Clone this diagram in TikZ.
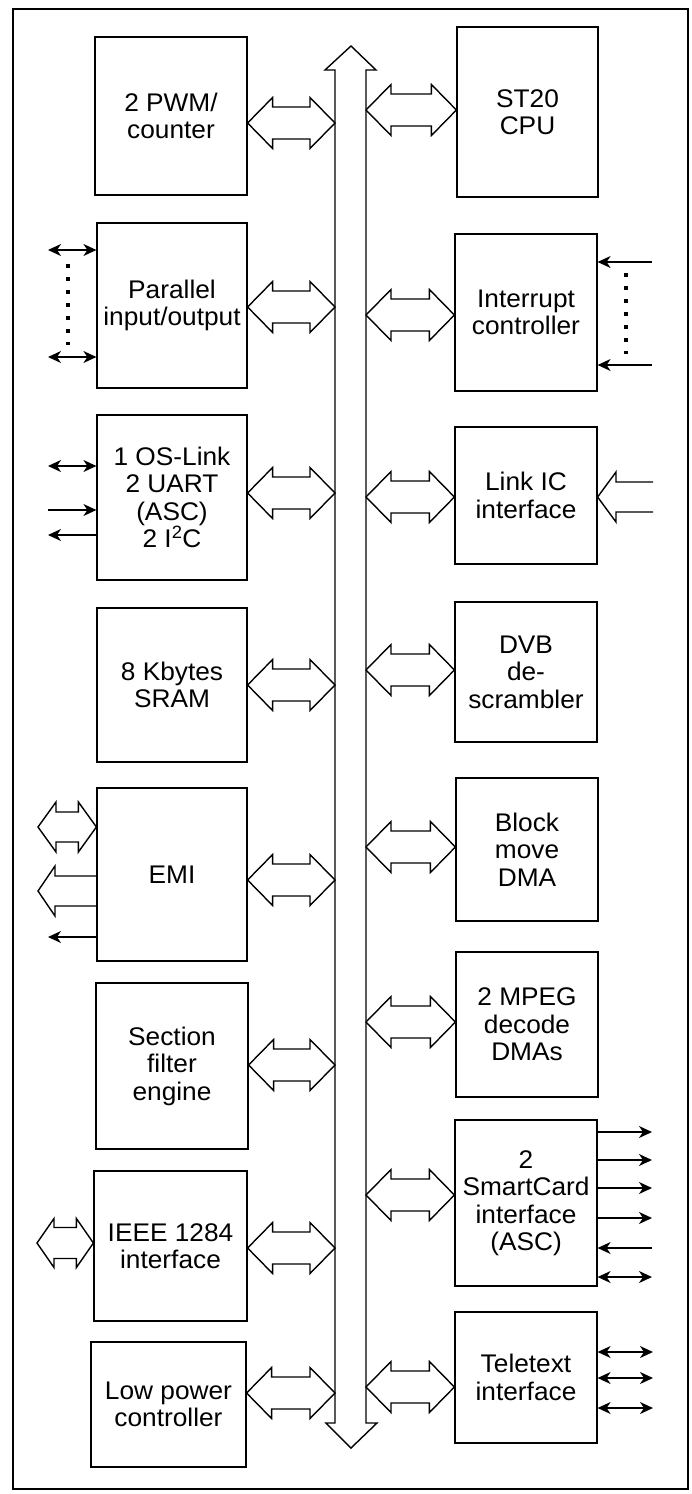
\documentclass[tikz,border=0pt]{standalone}
\usepackage{fontspec}
\setmainfont{Liberation Sans}[FakeStretch=1.03]
\usetikzlibrary{calc,arrows.meta}
\newcommand\mkbox[6]{%
  \pgfmathsetmacro\mkW{#4-#2}\pgfmathsetmacro\mkH{#5-#3}%
  \pgfmathsetmacro\mkX{(#2+#4)/2}\pgfmathsetmacro\mkY{(#3+#5)/2}%
  \node[blk,minimum width=\mkW pt,minimum height=\mkH pt] (#1) at (\mkX,\mkY) {#6};}
\newcommand\dblarr[5]{%
  \draw[harrow] (#1) -- ($(#1)+(#3,-#4)$) -- ($(#1)+(#3,-#5)$) -- ($(#2)+(-#3,-#5)$)
   -- ($(#2)+(-#3,-#4)$) -- (#2) -- ($(#2)+(-#3,#4)$) -- ($(#2)+(-#3,#5)$)
   -- ($(#1)+(#3,#5)$) -- ($(#1)+(#3,#4)$) -- cycle;}
\newcommand\lbus[2]{%
  \coordinate (#1a) at (#1.east |- 0,#2);
  \coordinate (#1b) at (busL |- 0,#2);
  \dblarr{#1a}{#1b}{25}{25.5}{16}}
\newcommand\rbus[2]{%
  \coordinate (#1a) at (busR |- 0,#2);
  \coordinate (#1b) at (#1.west |- 0,#2);
  \dblarr{#1a}{#1b}{25}{25.5}{16}}
\begin{document}
\begin{tikzpicture}[x=1pt,y=-1pt,
  blk/.style={draw,line width=1.2pt,inner sep=0pt,align=center,
    font=\fontsize{25.5}{27.5}\selectfont},
  harrow/.style={draw,line width=1.4pt,line join=miter},
  tarrow/.style={line width=1.4pt},
  >={Stealth[length=13pt,width=12pt,inset=4pt]},
  dots/.style={line width=3.5pt,dash pattern=on 4pt off 9pt}]
\useasboundingbox (0,0) rectangle (691,1494);
\draw[line width=1.2pt] (13,9) rectangle (688,1489);

% bus
\coordinate (busL) at (335,0);
\coordinate (busR) at (366,0);
\coordinate (busT) at (351,46);
\coordinate (busB) at (351,1448);
\draw[harrow] (busT) -- (376,70) -- (busR |- 0,70) -- (busR |- 0,1423) -- (377,1423)
  -- (busB) -- (326,1423) -- (busL |- 0,1423) -- (busL |- 0,70) -- (325,70) -- cycle;

% left column
\mkbox{pwm}{95}{37}{247}{195}{2 PWM/\\counter}
\mkbox{par}{97}{223}{247}{388}{Parallel\\input/output}
\mkbox{osl}{97}{415}{247}{580}{1 OS-Link\\2 UART\\(ASC)\\2 I\textsuperscript{2}C}
\mkbox{sram}{97}{608}{247}{762}{8 Kbytes\\SRAM}
\mkbox{emi}{97}{788}{247}{961}{EMI}
\mkbox{sec}{96}{983}{248}{1149}{Section\\filter\\engine}
\mkbox{ieee}{94}{1171}{247}{1321}{IEEE 1284\\interface}
\mkbox{lpc}{91}{1342}{246}{1467}{Low power\\controller}

% right column
\mkbox{cpu}{457}{27}{598}{197}{ST20\\CPU}
\mkbox{irq}{455}{234}{597}{391}{Interrupt\\controller}
\mkbox{lic}{455}{427}{597}{564}{Link IC\\interface}
\mkbox{dvb}{455}{602}{597}{742}{DVB\\de-\\scrambler}
\mkbox{bmd}{456}{778}{598}{921}{Block\\move\\DMA}
\mkbox{mpg}{456}{952}{598}{1097}{2 MPEG\\decode\\DMAs}
\mkbox{smc}{455}{1120}{597}{1286}{2\\SmartCard\\interface\\(ASC)}
\mkbox{ttx}{455}{1312}{597}{1443}{Teletext\\interface}

% bus connections
\lbus{pwm}{123}
\lbus{par}{307}
\lbus{osl}{493}
\lbus{sram}{685}
\lbus{emi}{880}
\lbus{sec}{1065}
\lbus{ieee}{1248}
\lbus{lpc}{1393}
\rbus{cpu}{110}
\rbus{irq}{315}
\rbus{lic}{497}
\rbus{dvb}{670}
\rbus{bmd}{847}
\rbus{mpg}{1022}
\rbus{smc}{1195}
\rbus{ttx}{1387}

% parallel I/O pins
\coordinate (pe1) at (48,250);
\coordinate (pe2) at (48,357);
\draw[tarrow,<->] (pe1) -- (par.west |- pe1);
\draw[tarrow,<->] (pe2) -- (par.west |- pe2);
\coordinate (pd1) at (68,264);
\coordinate (pd2) at (68,345);
\draw[dots] (pd1) -- (pd2);

% OS-Link pins
\coordinate (oe1) at (48,466);
\coordinate (oe2) at (48,510);
\coordinate (oe3) at (48,535);
\draw[tarrow,<->] (oe1) -- (osl.west |- oe1);
\draw[tarrow,->] (oe2) -- (osl.west |- oe2);
\draw[tarrow,<-] (oe3) -- (osl.west |- oe3);

% EMI pins
\coordinate (ed1) at (38,827);
\coordinate (ed2) at (emi.west |- ed1);
\dblarr{ed1}{ed2}{18}{25}{15}
\coordinate (et) at (38,891);
\draw[harrow] (emi.west |- 0,876) -- (55,876) -- (55,866) -- (et) -- (55,916)
  -- (55,906) -- (emi.west |- 0,906);
\coordinate (ee) at (48,937);
\draw[tarrow,<-] (ee) -- (emi.west |- ee);

% IEEE pins
\coordinate (id1) at (37,1243);
\coordinate (id2) at (ieee.west |- id1);
\dblarr{id1}{id2}{17}{24.5}{15.5}

% interrupt pins
\coordinate (ie1) at (652,262);
\coordinate (ie2) at (652,365);
\draw[tarrow,->] (ie1) -- (irq.east |- ie1);
\draw[tarrow,->] (ie2) -- (irq.east |- ie2);
\coordinate (id3) at (626,273);
\coordinate (id4) at (626,354);
\draw[dots] (id3) -- (id4);

% Link IC input
\coordinate (lt) at (lic.east |- 0,497);
\coordinate (le) at (653,497);
\draw[harrow] (le |- 0,482) -- (616,482) -- (616,472) -- (lt) -- (616,522)
  -- (616,512) -- (le |- 0,512);

% SmartCard pins
\foreach \n/\y in {1/1132,2/1160,3/1188,4/1218}{
  \coordinate (se\n) at (652,\y);
  \draw[tarrow,->] (smc.east |- se\n) -- (se\n);
}
\coordinate (se5) at (652,1248);
\draw[tarrow,->] (se5) -- (smc.east |- se5);
\coordinate (se6) at (652,1277);
\draw[tarrow,<->] (smc.east |- se6) -- (se6);

% Teletext pins
\foreach \n/\y in {1/1352,2/1378,3/1408}{
  \coordinate (te\n) at (653,\y);
  \draw[tarrow,<->] (ttx.east |- te\n) -- (te\n);
}
\end{tikzpicture}
\end{document}
